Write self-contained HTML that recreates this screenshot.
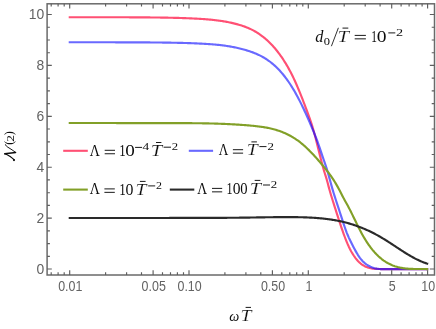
<!DOCTYPE html>
<html><head><meta charset="utf-8"><title>plot</title>
<style>html,body{margin:0;padding:0;background:#fff}body{width:436px;height:329px;overflow:hidden;font-family:"Liberation Sans",sans-serif}svg{will-change:transform}</style></head>
<body>
<svg width="436" height="329" viewBox="0 0 436 329" style="display:block">
<rect width="436" height="329" fill="#fff"/>
<g fill="none" stroke-width="2.15" stroke-linecap="butt" stroke-linejoin="round">
<defs><path id="cr" d="M68.7,17.20 L69.7,17.20 L70.7,17.20 L71.7,17.21 L72.7,17.21 L73.7,17.21 L74.7,17.21 L75.7,17.22 L76.7,17.22 L77.7,17.22 L78.7,17.22 L79.7,17.22 L80.7,17.22 L81.7,17.22 L82.7,17.23 L83.7,17.23 L84.7,17.23 L85.7,17.23 L86.7,17.23 L87.7,17.23 L88.7,17.23 L89.7,17.23 L90.7,17.23 L91.7,17.23 L92.7,17.23 L93.7,17.23 L94.7,17.24 L95.7,17.24 L96.7,17.24 L97.7,17.24 L98.7,17.24 L99.7,17.24 L100.7,17.24 L101.7,17.24 L102.7,17.24 L103.7,17.24 L104.7,17.24 L105.7,17.24 L106.7,17.25 L107.7,17.25 L108.7,17.25 L109.7,17.25 L110.7,17.25 L111.7,17.25 L112.7,17.25 L113.7,17.26 L114.7,17.26 L115.7,17.26 L116.7,17.26 L117.7,17.26 L118.7,17.27 L119.7,17.27 L120.7,17.27 L121.7,17.27 L122.7,17.28 L123.7,17.28 L124.7,17.28 L125.7,17.29 L126.7,17.29 L127.7,17.29 L128.7,17.30 L129.7,17.30 L130.7,17.31 L131.7,17.31 L132.7,17.32 L133.7,17.32 L134.7,17.33 L135.7,17.33 L136.7,17.34 L137.7,17.34 L138.7,17.35 L139.7,17.36 L140.7,17.36 L141.7,17.37 L142.7,17.38 L143.7,17.38 L144.7,17.39 L145.7,17.40 L146.7,17.41 L147.7,17.42 L148.7,17.43 L149.7,17.44 L150.7,17.45 L151.7,17.46 L152.7,17.47 L153.7,17.48 L154.7,17.49 L155.7,17.50 L156.7,17.51 L157.7,17.52 L158.7,17.54 L159.7,17.55 L160.7,17.57 L161.7,17.58 L162.7,17.59 L163.7,17.61 L164.7,17.63 L165.7,17.64 L166.7,17.66 L167.7,17.68 L168.7,17.70 L169.7,17.72 L170.7,17.74 L171.7,17.76 L172.7,17.78 L173.7,17.81 L174.7,17.83 L175.7,17.86 L176.7,17.88 L177.7,17.91 L178.7,17.94 L179.7,17.97 L180.7,18.00 L181.7,18.03 L182.7,18.06 L183.7,18.10 L184.7,18.13 L185.7,18.17 L186.7,18.21 L187.7,18.25 L188.7,18.29 L189.7,18.33 L190.7,18.37 L191.7,18.42 L192.7,18.46 L193.7,18.51 L194.7,18.56 L195.7,18.61 L196.7,18.66 L197.7,18.71 L198.7,18.77 L199.7,18.83 L200.7,18.89 L201.7,18.95 L202.7,19.02 L203.7,19.09 L204.7,19.16 L205.7,19.23 L206.7,19.31 L207.7,19.39 L208.7,19.48 L209.7,19.57 L210.7,19.66 L211.7,19.76 L212.7,19.86 L213.7,19.97 L214.7,20.08 L215.7,20.20 L216.7,20.32 L217.7,20.45 L218.7,20.58 L219.7,20.72 L220.7,20.86 L221.7,21.01 L222.7,21.17 L223.7,21.33 L224.7,21.50 L225.7,21.68 L226.7,21.86 L227.7,22.05 L228.7,22.25 L229.7,22.46 L230.7,22.67 L231.7,22.89 L232.7,23.12 L233.7,23.35 L234.7,23.60 L235.7,23.85 L236.7,24.11 L237.7,24.39 L238.7,24.67 L239.7,24.96 L240.7,25.27 L241.7,25.59 L242.7,25.92 L243.7,26.26 L244.7,26.63 L245.7,27.00 L246.7,27.40 L247.7,27.81 L248.7,28.23 L249.7,28.68 L250.7,29.15 L251.7,29.63 L252.7,30.14 L253.7,30.67 L254.7,31.22 L255.7,31.80 L256.7,32.39 L257.7,33.02 L258.7,33.66 L259.7,34.34 L260.7,35.04 L261.7,35.77 L262.7,36.52 L263.7,37.31 L264.7,38.12 L265.7,38.97 L266.7,39.85 L267.7,40.75 L268.7,41.70 L269.7,42.67 L270.7,43.68 L271.7,44.72 L272.7,45.80 L273.7,46.92 L274.7,48.07 L275.7,49.26 L276.7,50.49 L277.7,51.76 L278.7,53.07 L279.7,54.41 L280.7,55.81 L281.7,57.24 L282.7,58.71 L283.7,60.24 L284.7,61.81 L285.7,63.43 L286.7,65.10 L287.7,66.82 L288.7,68.60 L289.7,70.43 L290.7,72.32 L291.7,74.27 L292.7,76.29 L293.7,78.36 L294.7,80.50 L295.7,82.71 L296.7,84.99 L297.7,87.33 L298.7,89.72 L299.7,92.16 L300.7,94.65 L301.7,97.18 L302.7,99.73 L303.7,102.32 L304.7,104.92 L305.7,107.54 L306.7,110.17 L307.7,112.84 L308.7,115.58 L309.7,118.40 L310.7,121.34 L311.7,124.41 L312.7,127.65 L313.7,131.07 L314.7,134.69 L315.7,138.49 L316.7,142.41 L317.7,146.42 L318.7,150.46 L319.7,154.50 L320.7,158.48 L321.7,162.36 L322.7,166.09 L323.7,169.64 L324.7,172.95 L325.7,176.13 L326.7,179.43 L327.7,183.05 L328.7,186.87 L329.7,190.56 L330.7,194.01 L331.7,197.30 L332.7,200.51 L333.7,203.68 L334.7,206.81 L335.7,209.94 L336.7,213.06 L337.7,216.18 L338.7,219.27 L339.7,222.34 L340.7,225.36 L341.7,228.33 L342.7,231.22 L343.7,234.04 L344.7,236.75 L345.7,239.36 L346.7,241.85 L347.7,244.20 L348.7,246.41 L349.7,248.48 L350.7,250.42 L351.7,252.23 L352.7,253.92 L353.7,255.50 L354.7,256.95 L355.7,258.30 L356.7,259.54 L357.7,260.68 L358.7,261.72 L359.7,262.67 L360.7,263.53 L361.7,264.31 L362.7,265.01 L363.7,265.63 L364.7,266.18 L365.7,266.67 L366.7,267.10 L367.7,267.46 L368.7,267.78 L369.7,268.05 L370.7,268.27 L371.7,268.45 L372.7,268.60 L373.7,268.72 L374.7,268.81 L375.7,268.88 L376.7,268.93 L377.7,268.97 L378.7,269.00 L379.7,269.03 L380.7,269.06 L381.7,269.10 L382.7,269.10 L383.7,269.10 L384.7,269.10 L385.7,269.10 L386.7,269.10 L387.7,269.10 L388.7,269.10 L389.7,269.10 L390.7,269.10 L391.7,269.10 L392.7,269.10 L393.7,269.10 L394.7,269.10 L395.7,269.10 L396.7,269.10 L397.7,269.10 L398.7,269.10 L399.7,269.10 L400.7,269.10 L401.7,269.10 L402.7,269.10 L403.7,269.10 L404.7,269.10 L405.7,269.10 L406.7,269.10 L407.7,269.10 L408.7,269.10 L409.7,269.10 L410.7,269.10 L411.7,269.10 L412.7,269.10 L413.7,269.10 L414.7,269.10 L415.7,269.10 L416.7,269.10 L417.7,269.10 L418.7,269.10 L419.7,269.10 L420.7,269.10 L421.7,269.10 L422.7,269.10 L423.7,269.10 L424.7,269.10 L425.7,269.10 L426.7,269.10 L427.7,269.10 L428.2,269.10"/><path id="cb" d="M68.7,42.25 L69.7,42.25 L70.7,42.25 L71.7,42.25 L72.7,42.26 L73.7,42.26 L74.7,42.26 L75.7,42.26 L76.7,42.26 L77.7,42.27 L78.7,42.27 L79.7,42.27 L80.7,42.27 L81.7,42.27 L82.7,42.27 L83.7,42.27 L84.7,42.27 L85.7,42.27 L86.7,42.28 L87.7,42.28 L88.7,42.28 L89.7,42.28 L90.7,42.28 L91.7,42.28 L92.7,42.28 L93.7,42.28 L94.7,42.28 L95.7,42.28 L96.7,42.28 L97.7,42.28 L98.7,42.28 L99.7,42.28 L100.7,42.28 L101.7,42.28 L102.7,42.28 L103.7,42.29 L104.7,42.29 L105.7,42.29 L106.7,42.29 L107.7,42.29 L108.7,42.29 L109.7,42.29 L110.7,42.29 L111.7,42.29 L112.7,42.29 L113.7,42.29 L114.7,42.30 L115.7,42.30 L116.7,42.30 L117.7,42.30 L118.7,42.30 L119.7,42.30 L120.7,42.31 L121.7,42.31 L122.7,42.31 L123.7,42.31 L124.7,42.31 L125.7,42.32 L126.7,42.32 L127.7,42.32 L128.7,42.33 L129.7,42.33 L130.7,42.33 L131.7,42.34 L132.7,42.34 L133.7,42.34 L134.7,42.35 L135.7,42.35 L136.7,42.36 L137.7,42.36 L138.7,42.37 L139.7,42.37 L140.7,42.38 L141.7,42.38 L142.7,42.39 L143.7,42.40 L144.7,42.40 L145.7,42.41 L146.7,42.42 L147.7,42.42 L148.7,42.43 L149.7,42.44 L150.7,42.45 L151.7,42.45 L152.7,42.46 L153.7,42.47 L154.7,42.48 L155.7,42.49 L156.7,42.50 L157.7,42.51 L158.7,42.52 L159.7,42.53 L160.7,42.54 L161.7,42.55 L162.7,42.57 L163.7,42.58 L164.7,42.59 L165.7,42.61 L166.7,42.62 L167.7,42.63 L168.7,42.65 L169.7,42.66 L170.7,42.68 L171.7,42.70 L172.7,42.72 L173.7,42.73 L174.7,42.75 L175.7,42.77 L176.7,42.79 L177.7,42.82 L178.7,42.84 L179.7,42.86 L180.7,42.89 L181.7,42.91 L182.7,42.94 L183.7,42.97 L184.7,42.99 L185.7,43.02 L186.7,43.05 L187.7,43.09 L188.7,43.12 L189.7,43.15 L190.7,43.19 L191.7,43.23 L192.7,43.26 L193.7,43.30 L194.7,43.34 L195.7,43.39 L196.7,43.43 L197.7,43.47 L198.7,43.52 L199.7,43.57 L200.7,43.62 L201.7,43.67 L202.7,43.72 L203.7,43.78 L204.7,43.83 L205.7,43.89 L206.7,43.95 L207.7,44.02 L208.7,44.08 L209.7,44.15 L210.7,44.23 L211.7,44.30 L212.7,44.38 L213.7,44.46 L214.7,44.55 L215.7,44.64 L216.7,44.74 L217.7,44.84 L218.7,44.94 L219.7,45.05 L220.7,45.16 L221.7,45.28 L222.7,45.40 L223.7,45.53 L224.7,45.67 L225.7,45.81 L226.7,45.95 L227.7,46.10 L228.7,46.26 L229.7,46.43 L230.7,46.60 L231.7,46.78 L232.7,46.96 L233.7,47.15 L234.7,47.35 L235.7,47.56 L236.7,47.77 L237.7,47.99 L238.7,48.22 L239.7,48.46 L240.7,48.71 L241.7,48.96 L242.7,49.22 L243.7,49.50 L244.7,49.78 L245.7,50.07 L246.7,50.37 L247.7,50.67 L248.7,50.99 L249.7,51.32 L250.7,51.66 L251.7,52.01 L252.7,52.38 L253.7,52.76 L254.7,53.15 L255.7,53.57 L256.7,53.99 L257.7,54.44 L258.7,54.90 L259.7,55.39 L260.7,55.89 L261.7,56.42 L262.7,56.97 L263.7,57.54 L264.7,58.13 L265.7,58.75 L266.7,59.40 L267.7,60.07 L268.7,60.77 L269.7,61.50 L270.7,62.26 L271.7,63.05 L272.7,63.88 L273.7,64.73 L274.7,65.62 L275.7,66.54 L276.7,67.50 L277.7,68.49 L278.7,69.52 L279.7,70.59 L280.7,71.69 L281.7,72.84 L282.7,74.02 L283.7,75.25 L284.7,76.51 L285.7,77.82 L286.7,79.17 L287.7,80.56 L288.7,82.00 L289.7,83.48 L290.7,85.01 L291.7,86.58 L292.7,88.20 L293.7,89.87 L294.7,91.58 L295.7,93.35 L296.7,95.16 L297.7,97.02 L298.7,98.92 L299.7,100.87 L300.7,102.86 L301.7,104.89 L302.7,106.96 L303.7,109.07 L304.7,111.21 L305.7,113.39 L306.7,115.61 L307.7,117.85 L308.7,120.13 L309.7,122.44 L310.7,124.78 L311.7,127.15 L312.7,129.54 L313.7,131.95 L314.7,134.40 L315.7,136.90 L316.7,139.49 L317.7,142.19 L318.7,145.01 L319.7,147.94 L320.7,150.93 L321.7,153.93 L322.7,156.88 L323.7,159.77 L324.7,162.65 L325.7,165.60 L326.7,168.70 L327.7,172.02 L328.7,175.51 L329.7,179.12 L330.7,182.77 L331.7,186.37 L332.7,189.86 L333.7,193.19 L334.7,196.41 L335.7,199.53 L336.7,202.60 L337.7,205.63 L338.7,208.66 L339.7,211.71 L340.7,214.81 L341.7,217.93 L342.7,221.02 L343.7,224.06 L344.7,227.02 L345.7,229.85 L346.7,232.54 L347.7,235.04 L348.7,237.35 L349.7,239.51 L350.7,241.56 L351.7,243.54 L352.7,245.48 L353.7,247.40 L354.7,249.29 L355.7,251.13 L356.7,252.90 L357.7,254.57 L358.7,256.14 L359.7,257.59 L360.7,258.90 L361.7,260.10 L362.7,261.18 L363.7,262.16 L364.7,263.05 L365.7,263.85 L366.7,264.57 L367.7,265.21 L368.7,265.79 L369.7,266.32 L370.7,266.79 L371.7,267.22 L372.7,267.59 L373.7,267.91 L374.7,268.20 L375.7,268.43 L376.7,268.63 L377.7,268.79 L378.7,268.92 L379.7,269.01 L380.7,269.07 L381.7,269.10 L382.7,269.10 L383.7,269.10 L384.7,269.10 L385.7,269.10 L386.7,269.10 L387.7,269.10 L388.7,269.10 L389.7,269.10 L390.7,269.10 L391.7,269.10 L392.7,269.10 L393.7,269.10 L394.7,269.10 L395.7,269.10 L396.7,269.10 L397.7,269.10 L398.7,269.10 L399.7,269.10 L400.7,269.10 L401.7,269.10 L402.7,269.10 L403.7,269.10 L404.7,269.10 L405.7,269.10 L406.7,269.10 L407.7,269.10 L408.7,269.10 L409.7,269.10 L410.7,269.10 L411.7,269.10 L412.7,269.10 L413.7,269.10 L414.7,269.10 L415.7,269.10 L416.7,269.10 L417.7,269.10 L418.7,269.10 L419.7,269.10 L420.7,269.10 L421.7,269.10 L422.7,269.10 L423.7,269.10 L424.7,269.10 L425.7,269.10 L426.7,269.10 L427.7,269.10 L428.2,269.10"/><mask id="mr" maskUnits="userSpaceOnUse" x="0" y="0" width="436" height="329"><use href="#cr" stroke="#fff" stroke-width="2.15" fill="none"/></mask></defs>
<use href="#cr" stroke="#FF5074"/>
<use href="#cb" stroke="#6969FF"/>
<use href="#cb" stroke="#6420D0" mask="url(#mr)"/>
<path d="M68.7,122.97 L69.7,122.97 L70.7,122.97 L71.7,122.97 L72.7,122.97 L73.7,122.97 L74.7,122.97 L75.7,122.97 L76.7,122.97 L77.7,122.97 L78.7,122.98 L79.7,122.98 L80.7,122.98 L81.7,122.98 L82.7,122.98 L83.7,122.98 L84.7,122.98 L85.7,122.98 L86.7,122.98 L87.7,122.99 L88.7,122.99 L89.7,122.99 L90.7,122.99 L91.7,122.99 L92.7,122.99 L93.7,123.00 L94.7,123.00 L95.7,123.00 L96.7,123.00 L97.7,123.00 L98.7,123.01 L99.7,123.01 L100.7,123.01 L101.7,123.01 L102.7,123.02 L103.7,123.02 L104.7,123.02 L105.7,123.02 L106.7,123.02 L107.7,123.03 L108.7,123.03 L109.7,123.03 L110.7,123.03 L111.7,123.04 L112.7,123.04 L113.7,123.04 L114.7,123.04 L115.7,123.05 L116.7,123.05 L117.7,123.05 L118.7,123.05 L119.7,123.06 L120.7,123.06 L121.7,123.06 L122.7,123.06 L123.7,123.07 L124.7,123.07 L125.7,123.07 L126.7,123.07 L127.7,123.08 L128.7,123.08 L129.7,123.08 L130.7,123.08 L131.7,123.08 L132.7,123.09 L133.7,123.09 L134.7,123.09 L135.7,123.09 L136.7,123.10 L137.7,123.10 L138.7,123.10 L139.7,123.10 L140.7,123.10 L141.7,123.11 L142.7,123.11 L143.7,123.11 L144.7,123.11 L145.7,123.11 L146.7,123.11 L147.7,123.12 L148.7,123.12 L149.7,123.12 L150.7,123.12 L151.7,123.12 L152.7,123.12 L153.7,123.12 L154.7,123.13 L155.7,123.13 L156.7,123.13 L157.7,123.13 L158.7,123.13 L159.7,123.13 L160.7,123.13 L161.7,123.13 L162.7,123.13 L163.7,123.13 L164.7,123.13 L165.7,123.13 L166.7,123.13 L167.7,123.13 L168.7,123.13 L169.7,123.13 L170.7,123.13 L171.7,123.13 L172.7,123.13 L173.7,123.14 L174.7,123.14 L175.7,123.14 L176.7,123.14 L177.7,123.14 L178.7,123.14 L179.7,123.14 L180.7,123.14 L181.7,123.15 L182.7,123.15 L183.7,123.15 L184.7,123.16 L185.7,123.16 L186.7,123.16 L187.7,123.17 L188.7,123.17 L189.7,123.18 L190.7,123.19 L191.7,123.19 L192.7,123.20 L193.7,123.21 L194.7,123.22 L195.7,123.23 L196.7,123.24 L197.7,123.25 L198.7,123.26 L199.7,123.28 L200.7,123.29 L201.7,123.30 L202.7,123.32 L203.7,123.34 L204.7,123.35 L205.7,123.37 L206.7,123.39 L207.7,123.41 L208.7,123.43 L209.7,123.45 L210.7,123.48 L211.7,123.50 L212.7,123.53 L213.7,123.55 L214.7,123.58 L215.7,123.61 L216.7,123.64 L217.7,123.67 L218.7,123.71 L219.7,123.74 L220.7,123.78 L221.7,123.82 L222.7,123.85 L223.7,123.89 L224.7,123.94 L225.7,123.98 L226.7,124.02 L227.7,124.07 L228.7,124.12 L229.7,124.17 L230.7,124.22 L231.7,124.27 L232.7,124.32 L233.7,124.38 L234.7,124.44 L235.7,124.50 L236.7,124.56 L237.7,124.62 L238.7,124.69 L239.7,124.75 L240.7,124.82 L241.7,124.89 L242.7,124.97 L243.7,125.04 L244.7,125.12 L245.7,125.19 L246.7,125.28 L247.7,125.36 L248.7,125.44 L249.7,125.53 L250.7,125.62 L251.7,125.71 L252.7,125.80 L253.7,125.90 L254.7,126.00 L255.7,126.11 L256.7,126.22 L257.7,126.33 L258.7,126.45 L259.7,126.58 L260.7,126.71 L261.7,126.85 L262.7,127.00 L263.7,127.15 L264.7,127.32 L265.7,127.49 L266.7,127.67 L267.7,127.86 L268.7,128.06 L269.7,128.28 L270.7,128.50 L271.7,128.74 L272.7,128.98 L273.7,129.24 L274.7,129.52 L275.7,129.80 L276.7,130.10 L277.7,130.42 L278.7,130.75 L279.7,131.09 L280.7,131.46 L281.7,131.83 L282.7,132.23 L283.7,132.64 L284.7,133.07 L285.7,133.52 L286.7,133.98 L287.7,134.47 L288.7,134.98 L289.7,135.50 L290.7,136.05 L291.7,136.62 L292.7,137.20 L293.7,137.81 L294.7,138.45 L295.7,139.10 L296.7,139.78 L297.7,140.49 L298.7,141.21 L299.7,141.97 L300.7,142.75 L301.7,143.55 L302.7,144.38 L303.7,145.24 L304.7,146.12 L305.7,147.02 L306.7,147.96 L307.7,148.91 L308.7,149.89 L309.7,150.89 L310.7,151.91 L311.7,152.94 L312.7,154.00 L313.7,155.08 L314.7,156.17 L315.7,157.28 L316.7,158.40 L317.7,159.54 L318.7,160.69 L319.7,161.85 L320.7,163.03 L321.7,164.21 L322.7,165.41 L323.7,166.61 L324.7,167.84 L325.7,169.08 L326.7,170.35 L327.7,171.64 L328.7,172.97 L329.7,174.33 L330.7,175.73 L331.7,177.17 L332.7,178.66 L333.7,180.19 L334.7,181.78 L335.7,183.43 L336.7,185.13 L337.7,186.90 L338.7,188.71 L339.7,190.57 L340.7,192.49 L341.7,194.44 L342.7,196.42 L343.7,198.34 L344.7,200.16 L345.7,201.94 L346.7,203.72 L347.7,205.54 L348.7,207.43 L349.7,209.37 L350.7,211.35 L351.7,213.36 L352.7,215.39 L353.7,217.45 L354.7,219.51 L355.7,221.57 L356.7,223.61 L357.7,225.65 L358.7,227.65 L359.7,229.62 L360.7,231.54 L361.7,233.42 L362.7,235.23 L363.7,236.98 L364.7,238.67 L365.7,240.30 L366.7,241.87 L367.7,243.38 L368.7,244.83 L369.7,246.23 L370.7,247.57 L371.7,248.85 L372.7,250.09 L373.7,251.27 L374.7,252.41 L375.7,253.49 L376.7,254.53 L377.7,255.51 L378.7,256.46 L379.7,257.35 L380.7,258.21 L381.7,259.02 L382.7,259.78 L383.7,260.51 L384.7,261.20 L385.7,261.85 L386.7,262.46 L387.7,263.04 L388.7,263.58 L389.7,264.09 L390.7,264.56 L391.7,265.01 L392.7,265.42 L393.7,265.80 L394.7,266.16 L395.7,266.48 L396.7,266.78 L397.7,267.06 L398.7,267.31 L399.7,267.54 L400.7,267.75 L401.7,267.93 L402.7,268.10 L403.7,268.25 L404.7,268.38 L405.7,268.49 L406.7,268.59 L407.7,268.68 L408.7,268.75 L409.7,268.81 L410.7,268.86 L411.7,268.90 L412.7,268.93 L413.7,268.95 L414.7,268.97 L415.7,268.98 L416.7,268.99 L417.7,268.99 L418.7,268.99 L419.7,268.99 L420.7,268.99 L421.7,269.00 L422.7,269.00 L423.7,269.01 L424.7,269.02 L425.7,269.04 L426.7,269.06 L427.7,269.10 L428.2,269.10" stroke="#82A028"/>
<path d="M68.7,218.01 L69.7,218.01 L70.7,218.01 L71.7,218.01 L72.7,218.00 L73.7,218.00 L74.7,218.00 L75.7,218.00 L76.7,218.00 L77.7,218.00 L78.7,217.99 L79.7,217.99 L80.7,217.99 L81.7,217.99 L82.7,217.99 L83.7,217.99 L84.7,217.99 L85.7,217.98 L86.7,217.98 L87.7,217.98 L88.7,217.98 L89.7,217.98 L90.7,217.98 L91.7,217.98 L92.7,217.98 L93.7,217.98 L94.7,217.97 L95.7,217.97 L96.7,217.97 L97.7,217.97 L98.7,217.97 L99.7,217.97 L100.7,217.97 L101.7,217.97 L102.7,217.97 L103.7,217.97 L104.7,217.97 L105.7,217.97 L106.7,217.97 L107.7,217.97 L108.7,217.97 L109.7,217.97 L110.7,217.96 L111.7,217.96 L112.7,217.96 L113.7,217.96 L114.7,217.96 L115.7,217.96 L116.7,217.96 L117.7,217.96 L118.7,217.96 L119.7,217.96 L120.7,217.96 L121.7,217.96 L122.7,217.96 L123.7,217.96 L124.7,217.96 L125.7,217.96 L126.7,217.96 L127.7,217.96 L128.7,217.96 L129.7,217.96 L130.7,217.96 L131.7,217.96 L132.7,217.96 L133.7,217.96 L134.7,217.96 L135.7,217.96 L136.7,217.96 L137.7,217.96 L138.7,217.96 L139.7,217.96 L140.7,217.96 L141.7,217.96 L142.7,217.96 L143.7,217.96 L144.7,217.96 L145.7,217.96 L146.7,217.96 L147.7,217.96 L148.7,217.95 L149.7,217.95 L150.7,217.95 L151.7,217.95 L152.7,217.95 L153.7,217.95 L154.7,217.95 L155.7,217.95 L156.7,217.95 L157.7,217.95 L158.7,217.95 L159.7,217.95 L160.7,217.95 L161.7,217.95 L162.7,217.95 L163.7,217.95 L164.7,217.95 L165.7,217.95 L166.7,217.95 L167.7,217.95 L168.7,217.95 L169.7,217.94 L170.7,217.94 L171.7,217.94 L172.7,217.94 L173.7,217.94 L174.7,217.94 L175.7,217.94 L176.7,217.94 L177.7,217.94 L178.7,217.94 L179.7,217.94 L180.7,217.93 L181.7,217.93 L182.7,217.93 L183.7,217.93 L184.7,217.93 L185.7,217.93 L186.7,217.93 L187.7,217.93 L188.7,217.92 L189.7,217.92 L190.7,217.92 L191.7,217.92 L192.7,217.92 L193.7,217.92 L194.7,217.91 L195.7,217.91 L196.7,217.91 L197.7,217.91 L198.7,217.91 L199.7,217.90 L200.7,217.90 L201.7,217.90 L202.7,217.90 L203.7,217.90 L204.7,217.89 L205.7,217.89 L206.7,217.89 L207.7,217.89 L208.7,217.88 L209.7,217.88 L210.7,217.88 L211.7,217.87 L212.7,217.87 L213.7,217.87 L214.7,217.86 L215.7,217.86 L216.7,217.86 L217.7,217.85 L218.7,217.85 L219.7,217.84 L220.7,217.84 L221.7,217.84 L222.7,217.83 L223.7,217.82 L224.7,217.82 L225.7,217.81 L226.7,217.81 L227.7,217.80 L228.7,217.79 L229.7,217.79 L230.7,217.78 L231.7,217.77 L232.7,217.76 L233.7,217.75 L234.7,217.75 L235.7,217.74 L236.7,217.73 L237.7,217.72 L238.7,217.71 L239.7,217.69 L240.7,217.68 L241.7,217.67 L242.7,217.66 L243.7,217.65 L244.7,217.63 L245.7,217.62 L246.7,217.61 L247.7,217.59 L248.7,217.58 L249.7,217.56 L250.7,217.54 L251.7,217.53 L252.7,217.51 L253.7,217.50 L254.7,217.48 L255.7,217.46 L256.7,217.44 L257.7,217.43 L258.7,217.41 L259.7,217.39 L260.7,217.38 L261.7,217.36 L262.7,217.34 L263.7,217.33 L264.7,217.31 L265.7,217.30 L266.7,217.28 L267.7,217.27 L268.7,217.25 L269.7,217.24 L270.7,217.22 L271.7,217.21 L272.7,217.20 L273.7,217.19 L274.7,217.18 L275.7,217.16 L276.7,217.15 L277.7,217.15 L278.7,217.14 L279.7,217.13 L280.7,217.12 L281.7,217.12 L282.7,217.11 L283.7,217.11 L284.7,217.11 L285.7,217.11 L286.7,217.11 L287.7,217.11 L288.7,217.11 L289.7,217.11 L290.7,217.12 L291.7,217.12 L292.7,217.13 L293.7,217.14 L294.7,217.15 L295.7,217.16 L296.7,217.18 L297.7,217.19 L298.7,217.21 L299.7,217.23 L300.7,217.25 L301.7,217.27 L302.7,217.30 L303.7,217.33 L304.7,217.36 L305.7,217.39 L306.7,217.43 L307.7,217.47 L308.7,217.51 L309.7,217.56 L310.7,217.60 L311.7,217.66 L312.7,217.71 L313.7,217.77 L314.7,217.84 L315.7,217.91 L316.7,217.98 L317.7,218.06 L318.7,218.14 L319.7,218.23 L320.7,218.32 L321.7,218.41 L322.7,218.51 L323.7,218.62 L324.7,218.73 L325.7,218.85 L326.7,218.97 L327.7,219.10 L328.7,219.23 L329.7,219.37 L330.7,219.52 L331.7,219.67 L332.7,219.83 L333.7,220.00 L334.7,220.17 L335.7,220.35 L336.7,220.53 L337.7,220.73 L338.7,220.93 L339.7,221.14 L340.7,221.35 L341.7,221.57 L342.7,221.80 L343.7,222.04 L344.7,222.29 L345.7,222.54 L346.7,222.80 L347.7,223.07 L348.7,223.35 L349.7,223.64 L350.7,223.94 L351.7,224.25 L352.7,224.56 L353.7,224.88 L354.7,225.22 L355.7,225.56 L356.7,225.91 L357.7,226.27 L358.7,226.64 L359.7,227.02 L360.7,227.40 L361.7,227.80 L362.7,228.21 L363.7,228.62 L364.7,229.05 L365.7,229.48 L366.7,229.92 L367.7,230.37 L368.7,230.84 L369.7,231.31 L370.7,231.79 L371.7,232.28 L372.7,232.78 L373.7,233.29 L374.7,233.80 L375.7,234.33 L376.7,234.87 L377.7,235.42 L378.7,235.97 L379.7,236.54 L380.7,237.11 L381.7,237.70 L382.7,238.30 L383.7,238.90 L384.7,239.51 L385.7,240.13 L386.7,240.76 L387.7,241.40 L388.7,242.04 L389.7,242.69 L390.7,243.34 L391.7,243.99 L392.7,244.65 L393.7,245.30 L394.7,245.96 L395.7,246.63 L396.7,247.29 L397.7,247.95 L398.7,248.60 L399.7,249.26 L400.7,249.91 L401.7,250.56 L402.7,251.21 L403.7,251.85 L404.7,252.48 L405.7,253.11 L406.7,253.73 L407.7,254.34 L408.7,254.94 L409.7,255.53 L410.7,256.12 L411.7,256.69 L412.7,257.25 L413.7,257.79 L414.7,258.33 L415.7,258.85 L416.7,259.35 L417.7,259.84 L418.7,260.31 L419.7,260.77 L420.7,261.21 L421.7,261.63 L422.7,262.03 L423.7,262.41 L424.7,262.77 L425.7,263.11 L426.7,263.43 L427.7,263.72 L428.2,263.86" stroke="#2a2a2a"/>
</g>
<rect x="47.1" y="3.8" width="387.4" height="271.2" fill="none" stroke="#6a6a6a" stroke-width="1.5"/>
<path d="M69.7,275.0 v-4.7 M69.7,3.8 v4.7 M153.1,275.0 v-4.7 M153.1,3.8 v4.7 M189.0,275.0 v-4.7 M189.0,3.8 v4.7 M272.4,275.0 v-4.7 M272.4,3.8 v4.7 M308.3,275.0 v-4.7 M308.3,3.8 v4.7 M391.7,275.0 v-4.7 M391.7,3.8 v4.7 M427.6,275.0 v-4.7 M427.6,3.8 v4.7 M51.2,275.0 v-2.8 M51.2,3.8 v2.8 M58.1,275.0 v-2.8 M58.1,3.8 v2.8 M64.2,275.0 v-2.8 M64.2,3.8 v2.8 M105.6,275.0 v-2.8 M105.6,3.8 v2.8 M126.6,275.0 v-2.8 M126.6,3.8 v2.8 M141.5,275.0 v-2.8 M141.5,3.8 v2.8 M162.5,275.0 v-2.8 M162.5,3.8 v2.8 M170.5,275.0 v-2.8 M170.5,3.8 v2.8 M177.4,275.0 v-2.8 M177.4,3.8 v2.8 M183.5,275.0 v-2.8 M183.5,3.8 v2.8 M224.9,275.0 v-2.8 M224.9,3.8 v2.8 M245.9,275.0 v-2.8 M245.9,3.8 v2.8 M260.8,275.0 v-2.8 M260.8,3.8 v2.8 M281.8,275.0 v-2.8 M281.8,3.8 v2.8 M289.8,275.0 v-2.8 M289.8,3.8 v2.8 M296.7,275.0 v-2.8 M296.7,3.8 v2.8 M302.8,275.0 v-2.8 M302.8,3.8 v2.8 M344.2,275.0 v-2.8 M344.2,3.8 v2.8 M365.2,275.0 v-2.8 M365.2,3.8 v2.8 M380.1,275.0 v-2.8 M380.1,3.8 v2.8 M401.1,275.0 v-2.8 M401.1,3.8 v2.8 M409.1,275.0 v-2.8 M409.1,3.8 v2.8 M416.0,275.0 v-2.8 M416.0,3.8 v2.8 M422.1,275.0 v-2.8 M422.1,3.8 v2.8 M47.1,269.0 h4.7 M434.5,269.0 h-4.7 M47.1,256.3 h2.8 M434.5,256.3 h-2.8 M47.1,243.6 h2.8 M434.5,243.6 h-2.8 M47.1,230.8 h2.8 M434.5,230.8 h-2.8 M47.1,218.1 h4.7 M434.5,218.1 h-4.7 M47.1,205.4 h2.8 M434.5,205.4 h-2.8 M47.1,192.7 h2.8 M434.5,192.7 h-2.8 M47.1,179.9 h2.8 M434.5,179.9 h-2.8 M47.1,167.2 h4.7 M434.5,167.2 h-4.7 M47.1,154.5 h2.8 M434.5,154.5 h-2.8 M47.1,141.8 h2.8 M434.5,141.8 h-2.8 M47.1,129.0 h2.8 M434.5,129.0 h-2.8 M47.1,116.3 h4.7 M434.5,116.3 h-4.7 M47.1,103.6 h2.8 M434.5,103.6 h-2.8 M47.1,90.8 h2.8 M434.5,90.8 h-2.8 M47.1,78.1 h2.8 M434.5,78.1 h-2.8 M47.1,65.4 h4.7 M434.5,65.4 h-4.7 M47.1,52.7 h2.8 M434.5,52.7 h-2.8 M47.1,40.0 h2.8 M434.5,40.0 h-2.8 M47.1,27.2 h2.8 M434.5,27.2 h-2.8 M47.1,14.5 h4.7 M434.5,14.5 h-4.7" stroke="#5e5e5e" stroke-width="1.15" fill="none"/>
<g font-family="Liberation Sans, sans-serif" font-size="13.9" fill="#636363">
<text transform="translate(70.3,290.7) scale(0.895,1)" text-anchor="middle">0.01</text>
<text transform="translate(153.7,290.7) scale(0.895,1)" text-anchor="middle">0.05</text>
<text transform="translate(189.6,290.7) scale(0.895,1)" text-anchor="middle">0.10</text>
<text transform="translate(273.0,290.7) scale(0.895,1)" text-anchor="middle">0.50</text>
<text transform="translate(308.9,290.7) scale(0.895,1)" text-anchor="middle">1</text>
<text transform="translate(392.3,290.7) scale(0.895,1)" text-anchor="middle">5</text>
<text transform="translate(428.2,290.7) scale(0.895,1)" text-anchor="middle">10</text>
<text x="44.2" y="273.6" text-anchor="end">0</text>
<text x="44.2" y="222.8" text-anchor="end">2</text>
<text x="44.2" y="171.8" text-anchor="end">4</text>
<text x="44.2" y="121.0" text-anchor="end">6</text>
<text x="44.2" y="70.1" text-anchor="end">8</text>
<text x="44.2" y="19.1" text-anchor="end">10</text>
</g>
<g font-family="Liberation Serif, serif" fill="#0d0d0d">
<g fill="none" stroke-width="2.1">
<path d="M63.2,150.8 H87.8" stroke="#FF5074"/>
<path d="M188.8,150.8 H213.1" stroke="#6969FF"/>
<path d="M63.2,189.6 H87.8" stroke="#82A028"/>
<path d="M169.8,189.6 H194.3" stroke="#2a2a2a"/>
</g>
<text transform="translate(89.86,155.80) scale(0.819,1)" font-size="16.97">Λ</text>
<path d="M104.7,150.3 H115.0 M104.7,153.75 H115.0" stroke="#0d0d0d" stroke-width="0.95" fill="none"/>
<text transform="translate(119.28,155.90) scale(0.789,1)" font-size="16.21">1</text>
<text transform="translate(125.37,155.90) scale(1.187,1)" font-size="16.09">0</text>
<path d="M135.1,147.4 H142.1" stroke="#0d0d0d" stroke-width="0.95" fill="none"/>
<text transform="translate(142.43,150.00) scale(1.238,1)" font-size="10.79">4</text>
<text transform="translate(150.75,155.90) scale(1.193,1)" font-size="17.10" font-style="italic" stroke="#fff" stroke-width="0.18">T</text>
<path d="M156.0,142.5 H161.4" stroke="#0d0d0d" stroke-width="0.95" fill="none"/>
<path d="M163.6,147.2 H171.0" stroke="#0d0d0d" stroke-width="0.95" fill="none"/>
<text transform="translate(171.74,150.40) scale(1.220,1)" font-size="10.42">2</text>
<text transform="translate(218.67,155.20) scale(0.784,1)" font-size="16.82">Λ</text>
<path d="M232.9,149.7 H243.1 M232.9,153.15 H243.1" stroke="#0d0d0d" stroke-width="0.95" fill="none"/>
<text transform="translate(246.70,155.20) scale(1.161,1)" font-size="16.95" font-style="italic" stroke="#fff" stroke-width="0.18">T</text>
<path d="M251.4,141.9 H256.9" stroke="#0d0d0d" stroke-width="0.95" fill="none"/>
<path d="M259.4,146.6 H266.5" stroke="#0d0d0d" stroke-width="0.95" fill="none"/>
<text transform="translate(267.43,149.80) scale(1.226,1)" font-size="10.57">2</text>
<text transform="translate(89.86,194.40) scale(0.819,1)" font-size="16.97">Λ</text>
<path d="M104.4,188.9 H114.8 M104.4,192.35 H114.8" stroke="#0d0d0d" stroke-width="0.95" fill="none"/>
<text transform="translate(119.25,194.50) scale(0.806,1)" font-size="16.21">1</text>
<text transform="translate(125.60,194.50) scale(0.982,1)" font-size="16.09">0</text>
<text transform="translate(135.40,194.50) scale(1.171,1)" font-size="16.79" font-style="italic" stroke="#fff" stroke-width="0.18">T</text>
<path d="M139.9,181.4 H145.6" stroke="#0d0d0d" stroke-width="0.95" fill="none"/>
<path d="M148.2,185.9 H155.2" stroke="#0d0d0d" stroke-width="0.95" fill="none"/>
<text transform="translate(155.97,188.90) scale(1.165,1)" font-size="10.27">2</text>
<text transform="translate(197.36,193.90) scale(0.795,1)" font-size="17.12">Λ</text>
<path d="M212.0,188.4 H222.2 M212.0,191.85 H222.2" stroke="#0d0d0d" stroke-width="0.95" fill="none"/>
<text transform="translate(226.62,194.00) scale(0.726,1)" font-size="16.82">1</text>
<text transform="translate(232.81,194.00) scale(0.933,1)" font-size="16.69">0</text>
<text transform="translate(240.34,194.00) scale(0.876,1)" font-size="16.69">0</text>
<text transform="translate(249.87,193.90) scale(1.193,1)" font-size="16.95" font-style="italic" stroke="#fff" stroke-width="0.18">T</text>
<path d="M254.7,180.4 H260.4" stroke="#0d0d0d" stroke-width="0.95" fill="none"/>
<path d="M263.0,185.0 H270.0" stroke="#0d0d0d" stroke-width="0.95" fill="none"/>
<text transform="translate(270.68,187.90) scale(1.269,1)" font-size="10.12">2</text>
<text transform="translate(315.21,42.10) scale(0.984,1)" font-size="16.57" font-style="italic">d</text>
<text transform="translate(323.72,44.50) scale(1.155,1)" font-size="10.83">0</text>
<path d="M331.4,46.2 L338.4,27.8" stroke="#0d0d0d" stroke-width="0.85" fill="none"/>
<text transform="translate(337.54,42.20) scale(1.193,1)" font-size="17.25" font-style="italic" stroke="#fff" stroke-width="0.18">T</text>
<path d="M342.5,28.1 H348.3" stroke="#0d0d0d" stroke-width="0.95" fill="none"/>
<path d="M354.7,35.4 H365.9 M354.7,38.85 H365.9" stroke="#0d0d0d" stroke-width="0.95" fill="none"/>
<text transform="translate(371.30,42.30) scale(0.658,1)" font-size="17.27">1</text>
<text transform="translate(376.66,42.30) scale(1.142,1)" font-size="17.14">0</text>
<path d="M388.3,32.9 H395.3" stroke="#0d0d0d" stroke-width="0.95" fill="none"/>
<text transform="translate(395.97,35.70) scale(1.289,1)" font-size="11.03">2</text>
<text transform="translate(229.23,321.00) scale(0.922,1)" font-size="15.35" font-style="italic">ω</text>
<text transform="translate(240.50,320.80) scale(1.193,1)" font-size="16.49" font-style="italic" stroke="#fff" stroke-width="0.18">T</text>
<path d="M245.6,307.4 H251.0" stroke="#0d0d0d" stroke-width="0.95" fill="none"/>
<text transform="translate(12.85,144.80) rotate(-90) scale(1.000,1)" font-size="12">(</text>
<text transform="translate(14.00,141.80) rotate(-90) scale(1.200,1)" font-size="11.3">2</text>
<text transform="translate(12.85,135.20) rotate(-90) scale(1.000,1)" font-size="12">)</text>
<g stroke="#0d0d0d" fill="none" stroke-linejoin="round" stroke-linecap="round">
<path d="M14.0,160.0 C13.0,158.2 10.5,156.6 8.0,155.2 C6.8,154.6 5.6,154.2 4.8,153.8" stroke-width="1.1"/>
<path d="M4.8,153.8 L15.6,152.4" stroke-width="1.5"/>
<path d="M15.6,152.4 C13.5,150.6 10.5,148.9 8.0,147.3 C6.6,146.4 5.8,145.8 5.5,144.7" stroke-width="0.95"/>
</g>
<circle cx="14.0" cy="160.1" r="1.05" fill="#0d0d0d"/>
</g>
</svg>
</body></html>
